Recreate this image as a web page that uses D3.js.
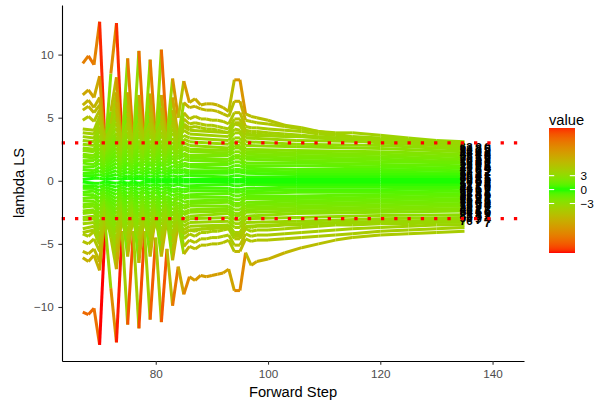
<!DOCTYPE html>
<html><head><meta charset="utf-8">
<script src="https://cdn.jsdelivr.net/npm/d3@7"></script>
<style>
body{margin:0;background:#fff}
svg{display:block}
text{font-family:"Liberation Sans",Arial,Helvetica,sans-serif}
</style>
</head><body>
<svg id="chart" width="594" height="408"></svg>
<script>
// ---------------- data ----------------
const outSteps = [67,68,69,70,71,72,73,74,75,76,77,78,79,80,81,82,83,84,85,86,87,88,89,90,91,92,93,94,95,96,97,98,100,103,106,109,112,115,120,125,130,135];
const u1 = [9.3,9.9,9.2,12.6,2.5,8.5,12.5,3.0,9.7,3.0,10.3,3.0,9.6,3.2,10.4,3.6,8.1,5.0,7.9,6.2,6.5,6.0,6.1,6.1,6.0,5.8,5.5,8.0,8.0,5.3,5.1,5.0,4.8,4.4,4.2,3.9,3.8,3.8,3.6,3.4,3.2,3.1];
const l1 = [-10.4,-10.6,-10.1,-13.0,-3.5,-8.5,-12.8,-4.0,-11.4,-4.0,-11.7,-4.0,-11.0,-4.5,-11.2,-5.4,-9.9,-6.8,-9.0,-7.6,-7.9,-7.5,-7.6,-7.5,-7.4,-7.3,-7.0,-8.7,-8.7,-5.7,-6.7,-6.4,-6.2,-5.7,-5.3,-5.0,-4.7,-4.5,-4.3,-4.2,-4.1,-4.0];
const u2 = [6.8,7.2,6.6,8.3,2.2,5.5,8.2,2.4,7.0,2.4,6.8,2.5,6.9,2.6,6.8,3.0,6.6,3.5,6.2,5.8,5.9,5.7,5.6,5.6,5.5,5.3,5.1,6.3,6.3,4.8,4.7,4.6,4.5,4.3,4.1,3.9,3.7,3.5,3.4,3.3,3.1,2.9];
const u3 = [6.0,6.4,5.8,6.6,2.0,4.5,7.0,2.2,6.0,2.2,5.9,2.3,6.0,2.4,5.8,2.8,5.6,3.2,5.4,4.9,5.1,4.9,4.9,4.8,4.8,4.7,4.5,5.4,5.4,4.3,4.2,4.2,4.1,4.0,3.9,3.7,3.6,3.4,3.2,3.1,3.0,2.8];
const u4 = [5.6,5.9,5.4,6.0,1.8,4.0,6.2,2.0,5.4,2.0,5.3,2.1,5.4,2.2,5.2,2.5,5.0,2.9,4.9,4.5,4.6,4.5,4.4,4.4,4.3,4.2,4.1,4.9,4.9,4.0,3.9,3.9,3.8,3.7,3.6,3.5,3.4,3.3,3.1,3.0,2.9,2.7];
const u5 = [4.8,5.1,4.7,5.6,1.6,3.6,5.7,1.8,5.0,1.8,4.9,1.9,5.0,2.0,4.8,2.3,4.7,2.6,4.5,4.2,4.3,4.2,4.1,4.1,4.0,3.9,3.8,4.6,4.6,3.8,3.7,3.7,3.6,3.5,3.5,3.4,3.3,3.2,3.0,2.9,2.8,2.6];
const l2 = [-6.1,-6.4,-5.9,-7.1,-2.3,-4.5,-7.0,-2.4,-6.0,-2.4,-6.5,-2.5,-6.0,-2.6,-6.0,-3.0,-6.3,-3.4,-5.8,-5.2,-5.4,-5.1,-5.1,-5.0,-5.0,-4.9,-4.7,-5.6,-5.6,-4.6,-4.8,-4.7,-4.7,-4.6,-4.5,-4.4,-4.3,-4.2,-4.0,-3.9,-3.8,-3.7];
const l3 = [-5.6,-5.8,-5.4,-6.4,-2.1,-4.0,-6.4,-2.2,-5.6,-2.2,-5.8,-2.3,-5.5,-2.4,-5.5,-2.7,-5.6,-3.1,-5.2,-4.7,-4.9,-4.6,-4.6,-4.5,-4.5,-4.4,-4.3,-5.1,-5.1,-4.2,-4.4,-4.3,-4.3,-4.2,-4.1,-4.0,-3.9,-3.8,-3.7,-3.6,-3.5,-3.5];
const l4 = [-4.8,-5.0,-4.6,-5.6,-1.9,-3.5,-5.6,-2.0,-4.9,-2.0,-5.1,-2.1,-4.8,-2.2,-4.8,-2.4,-4.9,-2.8,-4.6,-4.2,-4.4,-4.1,-4.1,-4.0,-4.0,-3.9,-3.8,-4.6,-4.6,-3.8,-4.0,-3.9,-3.9,-3.8,-3.7,-3.6,-3.5,-3.5,-3.4,-3.4,-3.3,-3.3];
const l5 = [-4.2,-4.4,-4.0,-5.0,-1.7,-3.2,-5.0,-1.8,-4.4,-1.8,-4.6,-1.9,-4.3,-2.0,-4.3,-2.2,-4.4,-2.6,-4.2,-3.9,-4.0,-3.8,-3.8,-3.7,-3.7,-3.6,-3.5,-4.3,-4.3,-3.6,-3.7,-3.6,-3.6,-3.5,-3.5,-3.4,-3.3,-3.3,-3.2,-3.2,-3.1,-3.1];

const bandSteps = [67,69,70,71,73,74,75,76,77,78,79,80,81,82,83,84,85,86,93,94,95,96,105,120,135];
const bandUpper = [
 [4.1,4.0,5.1,3.3,5.0,3.3,4.6,3.3,4.6,3.5,4.6,3.5,4.6,3.5,4.5,3.6,4.3,4.0,3.8,4.5,4.4,3.6,3.5,3.3,3.0],
 [3.8,3.7,4.7,3.1,4.6,3.1,4.3,3.0,4.3,3.2,4.2,3.2,4.3,3.2,4.1,3.4,4.0,3.7,3.5,4.1,4.0,3.4,3.2,3.1,2.7],
 [3.5,3.4,4.3,2.8,4.2,2.8,3.9,2.8,3.9,2.9,3.9,2.9,3.9,2.9,3.8,3.1,3.6,3.4,3.2,3.8,3.8,3.1,2.9,2.8,2.5],
 [3.2,3.1,4.0,2.6,3.8,2.6,3.6,2.6,3.6,2.7,3.6,2.7,3.6,2.7,3.4,2.8,3.3,3.1,2.9,3.4,3.4,2.8,2.7,2.55,2.3],
 [2.9,2.8,3.6,2.3,3.5,2.3,3.2,2.3,3.2,2.4,3.2,2.4,3.2,2.4,3.1,2.5,3.0,2.8,2.6,3.1,3.1,2.5,2.4,2.3,2.1],
 [2.6,2.5,3.3,2.1,3.2,2.1,2.9,2.1,2.9,2.2,2.9,2.2,2.9,2.2,2.8,2.3,2.7,2.5,2.4,2.8,2.8,2.3,2.2,2.1,1.9],
 [2.4,2.3,2.9,1.9,2.9,1.9,2.7,1.9,2.7,2.0,2.7,2.0,2.7,2.0,2.6,2.1,2.5,2.3,2.2,2.6,2.6,2.1,2.0,1.9,1.7],
 [2.1,2.0,2.6,1.7,2.6,1.7,2.4,1.7,2.4,1.8,2.4,1.8,2.4,1.8,2.3,1.9,2.2,2.0,2.0,2.3,2.3,1.9,1.8,1.7,1.5],
 [1.9,1.8,2.3,1.5,2.3,1.5,2.1,1.5,2.1,1.6,2.1,1.6,2.1,1.6,2.0,1.7,2.0,1.8,1.7,2.0,2.0,1.7,1.6,1.5,1.4],
 [1.6,1.6,2.0,1.3,2.0,1.3,1.8,1.3,1.8,1.4,1.8,1.4,1.8,1.4,1.8,1.4,1.7,1.6,1.5,1.8,1.8,1.4,1.4,1.3,1.2],
 [1.4,1.3,1.7,1.1,1.7,1.1,1.5,1.1,1.5,1.2,1.5,1.2,1.5,1.2,1.5,1.2,1.4,1.3,1.3,1.5,1.5,1.2,1.2,1.1,1.0],
 [1.1,1.1,1.4,0.9,1.4,0.9,1.3,0.9,1.3,0.9,1.3,0.9,1.3,0.9,1.2,1.0,1.2,1.1,1.0,1.2,1.2,1.0,0.9,0.9,0.8],
 [0.9,0.8,1.1,0.7,1.1,0.7,1.0,0.7,1.0,0.7,1.0,0.7,1.0,0.7,0.9,0.8,0.9,0.8,0.8,0.9,0.9,0.8,0.7,0.7,0.6],
 [0.6,0.6,0.8,0.5,0.8,0.5,0.7,0.5,0.7,0.5,0.7,0.5,0.7,0.5,0.7,0.6,0.7,0.6,0.6,0.7,0.7,0.6,0.5,0.5,0.5],
 [0.4,0.4,0.5,0.3,0.5,0.3,0.4,0.3,0.4,0.3,0.4,0.3,0.4,0.3,0.4,0.3,0.4,0.4,0.3,0.4,0.4,0.3,0.3,0.3,0.3],
 [0.1,0.2,0.2,0.1,0.2,0.1,0.2,0.1,0.2,0.1,0.1,0.1,0.1,0.1,0.1,0.1,0.1,0.1,0.1,0.1,0.1,0.1,0.1,0.1,0.1]
];
const bandLower = [
 [-4.1,-3.9,-5.0,-3.3,-4.9,-3.3,-4.6,-3.3,-4.6,-3.4,-4.5,-3.4,-4.6,-3.4,-4.4,-3.6,-4.2,-3.9,-3.7,-4.4,-4.4,-3.6,-3.4,-3.25,-3.2],
 [-3.8,-3.6,-4.6,-3.0,-4.5,-3.0,-4.2,-3.0,-4.2,-3.2,-4.2,-3.2,-4.2,-3.2,-4.1,-3.3,-3.9,-3.6,-3.5,-4.1,-4.1,-3.3,-3.2,-3.0,-2.9],
 [-3.4,-3.3,-4.3,-2.75,-4.1,-2.8,-3.9,-2.8,-3.9,-2.9,-3.8,-2.9,-3.9,-2.9,-3.7,-3.0,-3.6,-3.3,-3.2,-3.7,-3.7,-3.0,-2.9,-2.75,-2.7],
 [-3.1,-3.0,-3.9,-2.5,-3.8,-2.5,-3.5,-2.5,-3.5,-2.6,-3.5,-2.6,-3.5,-2.6,-3.4,-2.8,-3.3,-3.0,-2.9,-3.4,-3.4,-2.8,-2.6,-2.5,-2.4],
 [-2.9,-2.8,-3.6,-2.3,-3.5,-2.3,-3.2,-2.3,-3.2,-2.4,-3.2,-2.4,-3.2,-2.4,-3.1,-2.5,-3.0,-2.8,-2.6,-3.1,-3.1,-2.5,-2.4,-2.3,-2.2],
 [-2.6,-2.5,-3.3,-2.1,-3.2,-2.1,-2.9,-2.1,-2.9,-2.2,-2.9,-2.2,-2.9,-2.2,-2.8,-2.3,-2.7,-2.5,-2.4,-2.8,-2.8,-2.3,-2.2,-2.1,-2.0],
 [-2.4,-2.3,-2.9,-1.9,-2.9,-1.9,-2.7,-1.9,-2.7,-2.0,-2.7,-2.0,-2.7,-2.0,-2.6,-2.1,-2.5,-2.3,-2.2,-2.6,-2.6,-2.1,-2.0,-1.9,-1.8],
 [-2.1,-2.0,-2.6,-1.7,-2.6,-1.7,-2.4,-1.7,-2.4,-1.8,-2.4,-1.8,-2.4,-1.8,-2.3,-1.9,-2.2,-2.0,-2.0,-2.3,-2.3,-1.9,-1.8,-1.7,-1.6],
 [-1.9,-1.8,-2.3,-1.5,-2.3,-1.5,-2.1,-1.5,-2.1,-1.6,-2.1,-1.6,-2.1,-1.6,-2.0,-1.7,-2.0,-1.8,-1.7,-2.0,-2.0,-1.7,-1.6,-1.5,-1.4],
 [-1.6,-1.6,-2.0,-1.3,-2.0,-1.3,-1.8,-1.3,-1.8,-1.4,-1.8,-1.4,-1.8,-1.4,-1.8,-1.4,-1.7,-1.6,-1.5,-1.8,-1.8,-1.4,-1.4,-1.3,-1.2],
 [-1.4,-1.3,-1.7,-1.1,-1.7,-1.1,-1.5,-1.1,-1.5,-1.2,-1.5,-1.2,-1.5,-1.2,-1.5,-1.2,-1.4,-1.3,-1.3,-1.5,-1.5,-1.2,-1.2,-1.1,-1.0],
 [-1.1,-1.1,-1.4,-0.9,-1.4,-0.9,-1.3,-0.9,-1.3,-0.9,-1.3,-0.9,-1.3,-0.9,-1.2,-1.0,-1.2,-1.1,-1.0,-1.2,-1.2,-1.0,-0.9,-0.9,-0.8],
 [-0.9,-0.8,-1.1,-0.7,-1.1,-0.7,-1.0,-0.7,-1.0,-0.7,-1.0,-0.7,-1.0,-0.7,-0.9,-0.8,-0.9,-0.8,-0.8,-0.9,-0.9,-0.8,-0.7,-0.7,-0.6],
 [-0.6,-0.6,-0.8,-0.5,-0.8,-0.5,-0.7,-0.5,-0.7,-0.5,-0.7,-0.5,-0.7,-0.5,-0.7,-0.6,-0.7,-0.6,-0.6,-0.7,-0.7,-0.6,-0.5,-0.5,-0.5],
 [-0.4,-0.4,-0.5,-0.3,-0.5,-0.3,-0.4,-0.3,-0.4,-0.3,-0.4,-0.3,-0.4,-0.3,-0.4,-0.3,-0.4,-0.4,-0.3,-0.4,-0.4,-0.3,-0.3,-0.3,-0.3],
 [-0.1,-0.2,-0.2,-0.1,-0.2,-0.1,-0.2,-0.1,-0.2,-0.1,-0.1,-0.1,-0.1,-0.1,-0.1,-0.1,-0.1,-0.1,-0.1,-0.1,-0.1,-0.1,-0.1,-0.1,-0.1]
];

// unit labels at the end of the search (three overlapping columns)
const labStepA = 135.3, labStepB = 137.5, labStepC = 139.1;
const labValsA = [2.7,2.55,2.4,2.3,2.15,2.0,1.85,1.7,1.55,1.4,1.25,1.1,0.95,0.8,0.65,0.5,0.35,0.2,0.05,-0.1,-0.25,-0.4,-0.55,-0.7,-0.85,-1.0,-1.15,-1.3,-1.45,-1.6,-1.75,-1.9,-2.05,-2.2,-2.35,-2.5,-2.65,-2.8,-2.95,-3.15];
const labTextA = ["63","28","91","14","47","85","32","70","19","56","23","18","41","77","50","96","38","60","29","10","52","87","44","69","12","95","37","81","26","58","73","15","99","46","30","64","21","88","53","76"];
const labValsB = [2.65,2.5,2.3,2.15,1.95,1.8,1.6,1.45,1.25,1.1,0.9,0.75,0.55,0.4,0.2,0.05,-0.15,-0.3,-0.5,-0.65,-0.85,-1.0,-1.2,-1.35,-1.55,-1.7,-1.9,-2.05,-2.25,-2.4,-2.6,-2.75,-2.95,-3.05];
const labTextB = ["8","3","6","4","1","5","2","9","0","7","6","3","8","4","2","5","9","7","1","6","2","8","3","9","4","0","5","7","2","6","1","3","9","7"];
const labValsC = [2.65,2.45,2.3,2.1,1.95,1.75,1.6,1.4,1.25,1.05,0.9,0.7,0.55,0.35,0.2,0.0,-0.15,-0.35,-0.5,-0.7,-0.85,-1.05,-1.2,-1.4,-1.55,-1.75,-1.9,-2.1,-2.25,-2.45,-2.6,-2.8,-3.0,-3.3];
const labTextC = ["0","5","2","9","6","3","8","1","6","4","9","2","7","1","5","8","3","6","0","7","2","5","9","1","6","8","4","7","3","5","9","1","4","7"];

const xTicks = [80,100,120,140];
const yTicks = [-10,-5,0,5,10];
const legendTicks = [3,0,-3];
const bands = [3,-3];
const valueMin = -13.0, valueMax = 12.6;

// ---------------- scales ----------------
const svg = d3.select("#chart");
const x = d3.scaleLinear().domain([63.3,145.6]).range([62,524]);
const y = d3.scaleLinear().domain([-14.28,13.93]).range([361,5]);
const maxAbs = Math.max(Math.abs(valueMin), Math.abs(valueMax));
const ramp = d3.interpolateLab("#00ff00","#ff0000");
const colour = v => ramp(Math.min(1, Math.abs(v)/maxAbs));

// ---------------- segments ----------------
const series = [];
[u1,l1,u2,l2,u3,l3,u4,l4,u5,l5].forEach(v => series.push({steps: outSteps, vals: v}));
bandUpper.forEach(v => series.push({steps: bandSteps, vals: v}));
bandLower.forEach(v => series.push({steps: bandSteps, vals: v}));
const segs = [];
series.forEach(s => {
  for (let i = 0; i < s.steps.length - 1; i++) {
    segs.push({x1: s.steps[i], y1: s.vals[i], x2: s.steps[i+1], y2: s.vals[i+1]});
  }
});
svg.append("g").selectAll("line").data(segs).join("line")
  .attr("x1", d => x(d.x1)).attr("y1", d => y(d.y1))
  .attr("x2", d => x(d.x2)).attr("y2", d => y(d.y2))
  .attr("stroke", d => colour(d.y1))
  .attr("stroke-width", 3)
  .attr("stroke-linecap", "butt");

// ---------------- labels ----------------
const gLab = svg.append("g").attr("fill","#000").attr("text-anchor","middle").attr("font-weight","bold");
function labCol(step, vals, texts, size) {
  gLab.append("g").selectAll("text").data(vals).join("text")
    .attr("x", x(step)).attr("y", d => y(d)).attr("dy","0.36em")
    .attr("font-size", size)
    .text((d,i) => texts[i]);
}
labCol(labStepA, labValsA, labTextA, "11.5px");
labCol(labStepB, labValsB, labTextB, "12.5px");
labCol(labStepC, labValsC, labTextC, "12.5px");

// ---------------- threshold lines ----------------
svg.append("g").selectAll("line").data(bands).join("line")
  .attr("x1", 61.7).attr("x2", 524)
  .attr("y1", d => y(d)).attr("y2", d => y(d))
  .attr("stroke", "#ff0000").attr("stroke-width", 3.3)
  .attr("stroke-dasharray", "3.3,10");

// ---------------- axes ----------------
const yAxis = svg.append("g").attr("transform","translate(62,0)")
  .call(d3.axisLeft(y).tickValues(yTicks).tickSize(3.67).tickSizeOuter(0).tickPadding(4.5));
const xAxis = svg.append("g").attr("transform","translate(0,361)")
  .call(d3.axisBottom(x).tickValues(xTicks).tickSize(3.67).tickSizeOuter(0).tickPadding(5.5));
[yAxis, xAxis].forEach(a => {
  a.select(".domain").attr("stroke","#000").attr("stroke-width",1.1);
  a.selectAll(".tick line").attr("stroke","#333").attr("stroke-width",1.1);
  a.selectAll(".tick text").attr("fill","#4d4d4d").attr("font-size","11.7px")
    .attr("font-family",'"Liberation Sans",Arial,sans-serif');
});

svg.append("text").attr("x",293).attr("y",396.5).attr("text-anchor","middle")
  .attr("font-size","14.7px").attr("fill","#000").text("Forward Step");
svg.append("text").attr("transform","translate(24,183) rotate(-90)").attr("text-anchor","middle")
  .attr("font-size","14.7px").attr("fill","#000").text("lambda LS");

// ---------------- legend (colourbar, 20 bins as in ggplot) ----------------
const barTop = 128, barBottom = 253, barX = 549, barW = 26, nbin = 20;
const barLen = barBottom - barTop;
const inset = barLen / nbin / 2;
const ly = d3.scaleLinear().domain([valueMax, valueMin]).range([barTop + inset, barBottom - inset]);
const defs = svg.append("defs");
const grad = defs.append("linearGradient").attr("id","cbar")
  .attr("x1",0).attr("y1",0).attr("x2",0).attr("y2",1);
const nStops = 60;
grad.selectAll("stop").data(d3.range(nStops + 1)).join("stop")
  .attr("offset", i => i / nStops)
  .attr("stop-color", i => {
    const py = barTop + inset + (barLen - 2 * inset) * i / nStops;
    return colour(ly.invert(py));
  });
svg.append("rect").attr("x",barX).attr("y",barTop).attr("width",barW).attr("height",barLen)
  .attr("fill","url(#cbar)");
const gT = svg.append("g");
gT.selectAll("line.l").data(legendTicks).join("line").attr("class","l")
  .attr("x1",barX).attr("x2",barX+5.2).attr("y1",d=>ly(d)).attr("y2",d=>ly(d))
  .attr("stroke","#fff").attr("stroke-width",1.1);
gT.selectAll("line.r").data(legendTicks).join("line").attr("class","r")
  .attr("x1",barX+barW-5.2).attr("x2",barX+barW).attr("y1",d=>ly(d)).attr("y2",d=>ly(d))
  .attr("stroke","#fff").attr("stroke-width",1.1);
const fmt = d3.format("d");
gT.selectAll("text").data(legendTicks).join("text")
  .attr("x", 580.5).attr("y", d => ly(d)).attr("dy","0.36em")
  .attr("font-size","11.7px").attr("fill","#000").text(d => fmt(d));
svg.append("text").attr("x",549).attr("y",124.5).attr("font-size","14.7px").attr("fill","#000").text("value");
</script>
</body></html>
